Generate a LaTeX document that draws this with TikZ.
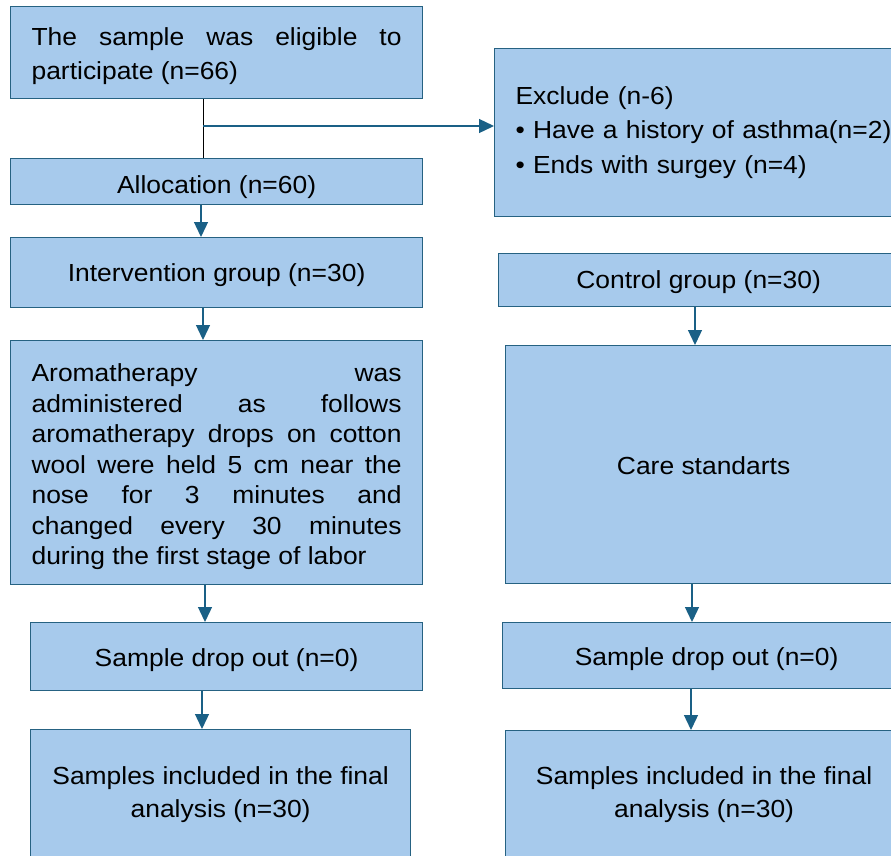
\documentclass[tikz,border=0pt]{standalone}
\usepackage{fontspec}
\setmainfont{Liberation Sans}[FakeStretch=1.07]
\usetikzlibrary{arrows.meta}
\definecolor{boxfill}{RGB}{167,202,236}
\definecolor{boxline}{RGB}{38,98,130}
\definecolor{arrowc}{RGB}{26,96,134}
\begin{document}
\begin{tikzpicture}[x=1pt,y=-1pt,
  box/.style={draw=boxline, line width=1.2pt, fill=boxfill, rectangle, anchor=north west,
    inner sep=0pt, align=center, font=\fontsize{24.7}{30.5}\selectfont},
  txtdown/.style={execute at begin node={\rule{0pt}{#1pt}}},
  arr/.style={draw=arrowc, line width=1.3pt, -{Triangle[length=15pt,width=14pt]}},
  plainline/.style={draw=black, line width=1pt}]
\path[use as bounding box, clip] (0,0) rectangle (891,855);
\fill[white] (0,0) rectangle (891,855);

\node[box, txtdown=24, minimum width=412, minimum height=92, text width=370, align=justify,
  font=\fontsize{24.7}{34}\selectfont] (elig) at (10,6)
  {The sample was eligible to\linebreak participate (n=66)};

\node[box, minimum width=442, minimum height=168, text width=400, align=left,
  font=\fontsize{24.7}{34.5}\selectfont] (excl) at (494,48)
  {Exclude (n-6)\\•~Have a history of asthma(n=2)\\•~Ends with surgey (n=4)};

\node[box, txtdown=29, minimum width=412, minimum height=46] (alloc) at (10,158) {Allocation (n=60)};
\node[box, txtdown=22, minimum width=412, minimum height=70] (interv) at (10,237) {Intervention group (n=30)};
\node[box, txtdown=22, minimum width=400, minimum height=53] (ctrl) at (498,253) {Control group (n=30)};

\node[box, txtdown=26, minimum width=412, minimum height=244, text width=370, align=justify] (aroma) at (10,340)
  {Aromatherapy was\linebreak administered as follows\linebreak aromatherapy drops on cotton\linebreak wool were held 5 cm near the\linebreak nose for 3 minutes and\linebreak changed every 30 minutes\linebreak during the first stage of labor};
\node[box, txtdown=20, minimum width=396, minimum height=238] (care) at (505,345) {Care standarts};

\node[box, txtdown=24, minimum width=392, minimum height=68] (dropL) at (30,622) {Sample drop out (n=0)};
\node[box, txtdown=24, minimum width=408, minimum height=66] (dropR) at (502,622) {Sample drop out (n=0)};

\node[box, txtdown=22, minimum width=380, minimum height=129, font=\fontsize{24.7}{33}\selectfont] (inclL) at (30,729)
  {Samples included in the final\\analysis (n=30)};
\node[box, txtdown=22, minimum width=397, minimum height=128, font=\fontsize{24.7}{33}\selectfont] (inclR) at (505,730)
  {Samples included in the final\\analysis (n=30)};

\coordinate (branch) at (203,126);
\draw[plainline] (elig.south -| branch) -- (alloc.north -| branch);
\draw[arr] (branch) -- (excl.west |- branch);

\draw[arr] (alloc.south -| 201,0) -- (interv.north -| 201,0);
\draw[arr] (interv.south -| 203,0) -- (aroma.north -| 203,0);
\draw[arr] (aroma.south -| 205,0) -- (dropL.north -| 205,0);
\draw[arr] (dropL.south -| 202,0) -- (inclL.north -| 202,0);

\draw[arr] (ctrl.south -| 695,0) -- (care.north -| 695,0);
\draw[arr] (care.south -| 692,0) -- (dropR.north -| 692,0);
\draw[arr] (dropR.south -| 691,0) -- (inclR.north -| 691,0);
\end{tikzpicture}
\end{document}
